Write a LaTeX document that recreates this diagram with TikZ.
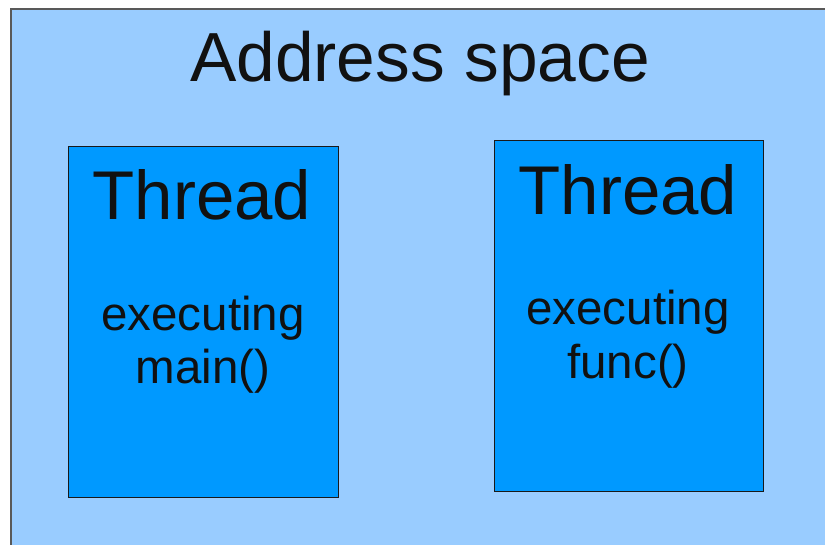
\documentclass[tikz,border=0pt]{standalone}
\usepackage{fontspec}
\setmainfont{Liberation Sans}
\definecolor{spacefill}{HTML}{99CCFF}
\definecolor{threadfill}{HTML}{0099FF}
\definecolor{txt}{HTML}{111111}
\begin{document}
\begin{tikzpicture}[x=1pt,y=-1pt,
  spacebox/.style={draw=black!65, line width=1.2pt, fill=spacefill},
  threadbox/.style={draw=black!90, line width=1pt, fill=threadfill},
  lbl/.style={anchor=base, inner sep=0pt, text=txt}]
\useasboundingbox (0,0) rectangle (825,545);
\clip (0,0) rectangle (825,545);
\fill[white] (0,0) rectangle (825,545);
\draw[spacebox] (11,9) rectangle (835,555);
\node[lbl, font=\fontsize{69.5}{80}\selectfont] (title) at (420,82) {Address space};
\draw[threadbox] (68,147) rectangle (338,497);
\node[lbl, font=\fontsize{69}{80}\selectfont] (th1) at (202,220) {Thread};
\node[lbl, font=\fontsize{47.5}{53}\selectfont] (e1) at (203,331) {executing};
\node[lbl, font=\fontsize{47.5}{53}\selectfont] (m1) at (203,384) {main()};
\draw[threadbox] (494,141) rectangle (763,491);
\node[lbl, font=\fontsize{69}{80}\selectfont] (th2) at (628,215) {Thread};
\node[lbl, font=\fontsize{47.5}{53}\selectfont] (e2) at (628,325) {executing};
\node[lbl, font=\fontsize{47.5}{53}\selectfont] (m2) at (628,379) {func()};
\end{tikzpicture}
\end{document}
